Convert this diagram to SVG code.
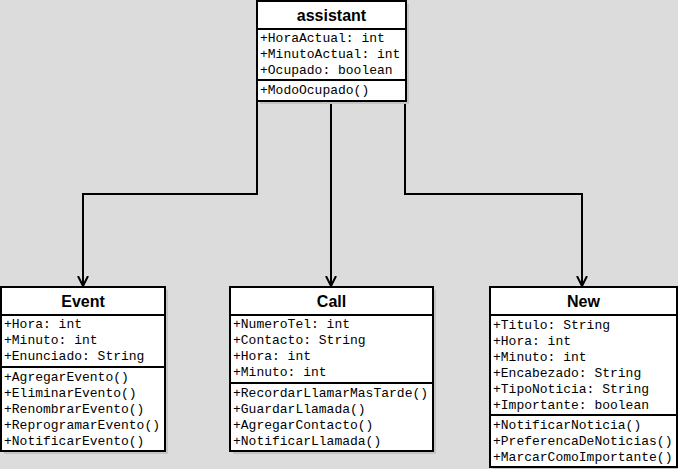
<svg xmlns="http://www.w3.org/2000/svg" width="678" height="469" viewBox="0 0 678 469">
<style>
.bg{fill:#dcdcdc}
.sh{fill:#c4c4c4}
.box{fill:#fff;stroke:#000;stroke-width:2}
.div{stroke:#000;stroke-width:2}
.t{font-family:"Liberation Sans",Arial,sans-serif;font-weight:bold;font-size:16px;text-anchor:middle;fill:#000}
.m{font-family:"Liberation Mono","Courier New",monospace;font-size:13px;fill:#000}
.c{fill:none;stroke:#000;stroke-width:2;marker-end:url(#arr)}
</style>
<defs>
<marker id="arr" markerUnits="userSpaceOnUse" markerWidth="14" markerHeight="14" refX="10" refY="7" orient="auto" viewBox="0 0 14 14">
<path d="M0,2 L10,7 L0,12" fill="none" stroke="#000" stroke-width="2"/>
</marker>
</defs>
<rect class="bg" x="0" y="0" width="678" height="469"/>
<g id="connectors">
<path class="c" d="M257,101 V194 H83 V286"/>
<path class="c" d="M331,101 V286"/>
<path class="c" d="M405,101 V194 H582 V286"/>
</g>
<g id="assistant">
<rect class="sh" x="260" y="4" width="149" height="100"/>
<rect class="box" x="257" y="1" width="149" height="100"/>
<line class="div" x1="257" y1="29" x2="406" y2="29"/>
<line class="div" x1="257" y1="80" x2="406" y2="80"/>
<text class="t" x="331.5" y="21">assistant</text>
<text class="m" x="260" y="42">+HoraActual: int</text>
<text class="m" x="260" y="58">+MinutoActual: int</text>
<text class="m" x="260" y="74">+Ocupado: boolean</text>
<text class="m" x="260" y="94">+ModoOcupado()</text>
</g>
<g id="event">
<rect class="sh" x="4" y="290" width="164" height="164"/>
<rect class="box" x="1" y="287" width="164" height="164"/>
<line class="div" x1="1" y1="315" x2="165" y2="315"/>
<line class="div" x1="1" y1="367" x2="165" y2="367"/>
<text class="t" x="83" y="307">Event</text>
<text class="m" x="4" y="328">+Hora: int</text>
<text class="m" x="4" y="344">+Minuto: int</text>
<text class="m" x="4" y="360">+Enunciado: String</text>
<text class="m" x="4" y="381">+AgregarEvento()</text>
<text class="m" x="4" y="397">+EliminarEvento()</text>
<text class="m" x="4" y="413">+RenombrarEvento()</text>
<text class="m" x="4" y="429">+ReprogramarEvento()</text>
<text class="m" x="4" y="445">+NotificarEvento()</text>
</g>
<g id="call">
<rect class="sh" x="233" y="290" width="203" height="164"/>
<rect class="box" x="230" y="287" width="203" height="164"/>
<line class="div" x1="230" y1="315" x2="433" y2="315"/>
<line class="div" x1="230" y1="383" x2="433" y2="383"/>
<text class="t" x="331.5" y="307">Call</text>
<text class="m" x="233" y="328">+NumeroTel: int</text>
<text class="m" x="233" y="344">+Contacto: String</text>
<text class="m" x="233" y="360">+Hora: int</text>
<text class="m" x="233" y="376">+Minuto: int</text>
<text class="m" x="233" y="397">+RecordarLlamarMasTarde()</text>
<text class="m" x="233" y="413">+GuardarLlamada()</text>
<text class="m" x="233" y="429">+AgregarContacto()</text>
<text class="m" x="233" y="445">+NotificarLlamada()</text>
</g>
<g id="new">
<rect class="sh" x="493" y="290" width="187" height="180"/>
<rect class="box" x="490" y="287" width="187" height="180"/>
<line class="div" x1="490" y1="315" x2="677" y2="315"/>
<line class="div" x1="490" y1="415" x2="677" y2="415"/>
<text class="t" x="583.5" y="307">New</text>
<text class="m" x="493" y="329">+Titulo: String</text>
<text class="m" x="493" y="345">+Hora: int</text>
<text class="m" x="493" y="361">+Minuto: int</text>
<text class="m" x="493" y="377">+Encabezado: String</text>
<text class="m" x="493" y="393">+TipoNoticia: String</text>
<text class="m" x="493" y="409">+Importante: boolean</text>
<text class="m" x="493" y="429">+NotificarNoticia()</text>
<text class="m" x="493" y="445">+PreferencaDeNoticias()</text>
<text class="m" x="493" y="461">+MarcarComoImportante()</text>
</g>
</svg>
